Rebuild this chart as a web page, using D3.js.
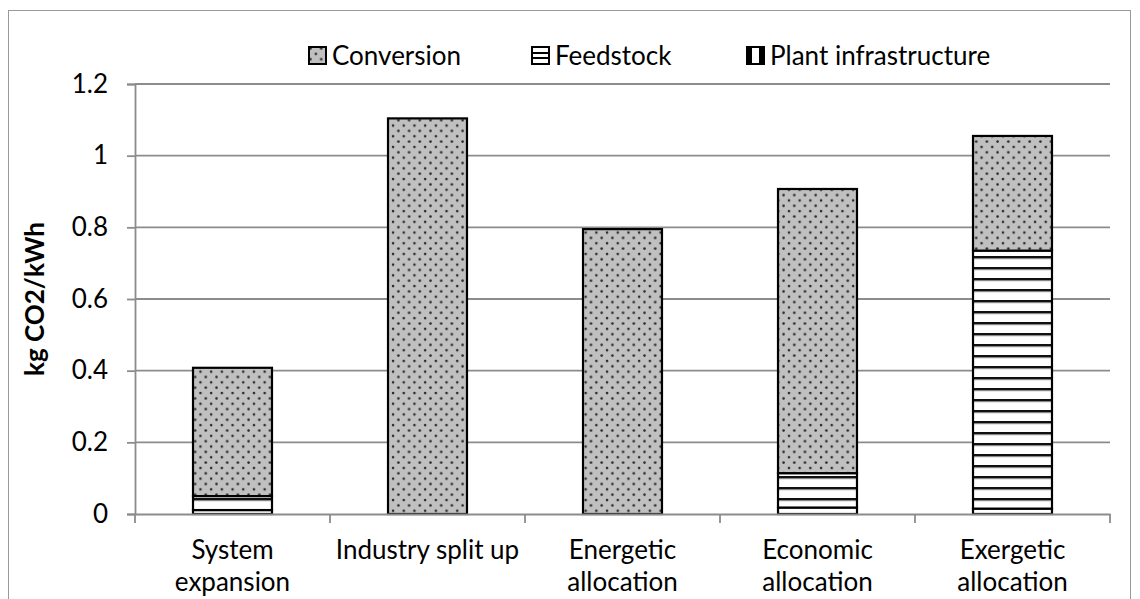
<!DOCTYPE html>
<html>
<head>
<meta charset="utf-8">
<script src="https://cdn.jsdelivr.net/npm/d3@7"></script>
<style>
  body { margin: 0; background: #fff; }
  svg { display: block; font-family: Lato, "Open Sans", sans-serif; }
</style>
</head>
<body>
<div id="chart"></div>
<script>
// Data
var categories = ["System expansion", "Industry split up", "Energetic allocation", "Economic allocation", "Exergetic allocation"];
var categoryLines = [["System", "expansion"], ["Industry split up"], ["Energetic", "allocation"], ["Economic", "allocation"], ["Exergetic", "allocation"]];
var seriesNames = ["Plant infrastructure", "Feedstock", "Conversion"];
var plant = [0.011, 0, 0, 0.018, 0.015];
var feedstock = [0.039, 0, 0, 0.096, 0.72];
var conversion = [0.358, 1.104, 0.795, 0.793, 0.32];
var yTicks = [0, 0.2, 0.4, 0.6, 0.8, 1, 1.2];
var legendOrder = ["Conversion", "Feedstock", "Plant infrastructure"];

var width = 1140, height = 599;
var fontSize = "26px";
var svg = d3.select("#chart").append("svg")
  .attr("width", width)
  .attr("height", height);

// patterns
var defs = svg.append("defs");
var dots = defs.append("pattern")
  .attr("id", "pat-conversion")
  .attr("patternUnits", "userSpaceOnUse")
  .attr("width", 10.7).attr("height", 10.7);
dots.append("rect").attr("width", 10.7).attr("height", 10.7).attr("fill", "#c0c0c0");
dots.append("circle").attr("cx", 2.5).attr("cy", 2.5).attr("r", 1.3).attr("fill", "#2a2a2a");
dots.append("circle").attr("cx", 7.85).attr("cy", 7.85).attr("r", 1.3).attr("fill", "#2a2a2a");

var hstripes = defs.append("pattern")
  .attr("id", "pat-feedstock")
  .attr("patternUnits", "userSpaceOnUse")
  .attr("width", 10).attr("height", 11)
  .attr("y", 3);
hstripes.append("rect").attr("width", 10).attr("height", 11).attr("fill", "#fff");
hstripes.append("rect").attr("y", 0).attr("width", 10).attr("height", 2).attr("fill", "#111");
hstripes.append("rect").attr("y", 2).attr("width", 10).attr("height", 1.2).attr("fill", "#888");

var fills = {
  "Conversion": "url(#pat-conversion)",
  "Feedstock": "url(#pat-feedstock)",
  "Plant infrastructure": "#fff"
};

// outer frame
svg.append("rect")
  .attr("x", 8.5).attr("y", 10.5)
  .attr("width", 1122).attr("height", 620)
  .attr("fill", "none")
  .attr("stroke", "#999")
  .attr("stroke-width", 1);

var x = d3.scaleBand().domain(categories).range([135, 1110]).padding(0);
var y = d3.scaleLinear().domain([0, 1.2]).range([514, 84]);
var barWidth = x.bandwidth() * 0.405;

// gridlines
svg.append("g")
  .selectAll("line")
  .data(yTicks.slice(1))
  .enter()
  .append("line")
  .attr("x1", 135).attr("x2", 1110)
  .attr("y1", d => y(d)).attr("y2", d => y(d))
  .attr("stroke", "#8c8c8c")
  .attr("stroke-width", 1.8);

// stacked bars
var rows = categories.map(function(c, i) {
  return { category: c, "Plant infrastructure": plant[i], "Feedstock": feedstock[i], "Conversion": conversion[i] };
});
var stack = d3.stack().keys(seriesNames);
var layers = stack(rows);

svg.append("g")
  .selectAll("g")
  .data(layers)
  .enter()
  .append("g")
  .attr("fill", d => fills[d.key])
  .selectAll("rect")
  .data(d => d.filter(s => s[1] - s[0] > 0))
  .enter()
  .append("rect")
  .attr("x", d => x(d.data.category) + (x.bandwidth() - barWidth) / 2)
  .attr("y", d => y(d[1]))
  .attr("width", barWidth)
  .attr("height", d => y(d[0]) - y(d[1]))
  .attr("stroke", "#000")
  .attr("stroke-width", 2.2);

// y axis
var yAxis = svg.append("g")
  .attr("transform", "translate(135,0)")
  .call(d3.axisLeft(y).tickValues(yTicks).tickSize(8).tickPadding(19).tickFormat(d => d3.format("")(d)));
yAxis.select(".domain").attr("stroke", "#8c8c8c").attr("stroke-width", 1.8);
yAxis.selectAll(".tick line").attr("stroke", "#8c8c8c").attr("stroke-width", 1.8);
yAxis.selectAll(".tick text")
  .attr("fill", "#000")
  .style("font-size", fontSize)
  .style("font-family", "Lato, sans-serif");

// x axis
var xAxis = svg.append("g")
  .attr("transform", "translate(0,514)")
  .call(d3.axisBottom(x).tickSize(0).tickFormat(""));
xAxis.select(".domain").attr("stroke", "#8c8c8c").attr("stroke-width", 1.8);

// category boundary ticks
svg.append("g")
  .selectAll("line")
  .data(d3.range(categories.length + 1))
  .enter()
  .append("line")
  .attr("x1", i => 135 + i * x.step())
  .attr("x2", i => 135 + i * x.step())
  .attr("y1", 514).attr("y2", 523)
  .attr("stroke", "#8c8c8c")
  .attr("stroke-width", 1.8);

// category labels
svg.append("g")
  .selectAll("text")
  .data(categories)
  .enter()
  .append("text")
  .attr("x", d => x(d) + x.bandwidth() / 2)
  .attr("y", 559)
  .attr("text-anchor", "middle")
  .style("font-size", fontSize)
  .each(function(d, i) {
    var t = d3.select(this);
    categoryLines[i].forEach(function(line, j) {
      t.append("tspan")
        .attr("x", x(d) + x.bandwidth() / 2)
        .attr("dy", j === 0 ? 0 : 32)
        .text(line);
    });
  });

// y axis title
svg.append("text")
  .attr("transform", "translate(44,299) rotate(-90)")
  .attr("text-anchor", "middle")
  .style("font-size", fontSize)
  .style("font-weight", "bold")
  .text("kg CO2/kWh");

// legend
var legendX = [308, 531, 746];
var legend = svg.append("g")
  .selectAll("g")
  .data(legendOrder)
  .enter()
  .append("g")
  .attr("transform", (d, i) => "translate(" + legendX[i] + ",46)");
legend.append("rect")
  .attr("x", 1).attr("y", 1)
  .attr("width", 17).attr("height", 17)
  .attr("fill", "#fff")
  .attr("stroke", "#000")
  .attr("stroke-width", 2);
legend.filter(d => d === "Conversion").select("rect").attr("fill", fills["Conversion"]);
legend.filter(d => d === "Feedstock").selectAll("line.s")
  .data([7, 12])
  .enter()
  .append("line")
  .attr("x1", 1).attr("x2", 18).attr("y1", v => v).attr("y2", v => v)
  .attr("stroke", "#000").attr("stroke-width", 2);
legend.filter(d => d === "Plant infrastructure").selectAll("rect.s")
  .data([1, 13])
  .enter()
  .append("rect")
  .attr("x", v => v).attr("y", 1).attr("width", 5).attr("height", 17).attr("fill", "#000");
legend.append("text")
  .attr("x", 24)
  .attr("y", 19)
  .style("font-size", fontSize)
  .text(d => d);
</script>
</body>
</html>
